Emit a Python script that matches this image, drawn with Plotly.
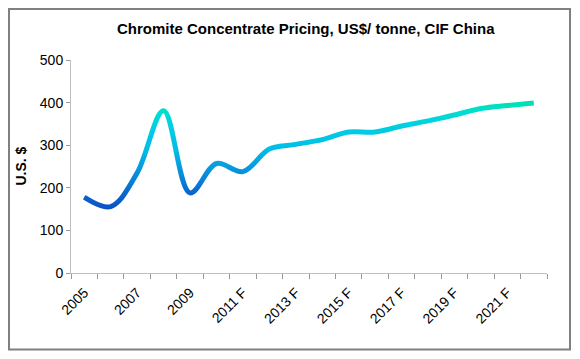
import numpy as np
import plotly.graph_objects as go

# ---- data ----
years = ["2005", "2006", "2007", "2008", "2009", "2010",
         "2011 F", "2012 F", "2013 F", "2014 F", "2015 F", "2016 F",
         "2017 F", "2018 F", "2019 F", "2020 F", "2021 F", "2022 F"]
price = [178, 156, 235, 381, 188, 257, 238, 291, 302, 313, 331, 331,
         345, 357, 371, 386, 393, 399]
y_ticks = [0, 100, 200, 300, 400, 500]

# colour ramp by value (vertical gradient of the line)
ramp_vals = [150, 190, 240, 290, 330, 370, 385, 400]
ramp_cols = ["#0a52c6", "#0a66d0", "#0892dc", "#00bce6", "#00c9e6",
             "#00d8d8", "#00e0cc", "#00e0b4"]

OFF = 8  # page body margin
W, H = 580 - 2 * OFF, 359 - 2 * OFF
L, PW = 71 - OFF, 476
T, PH = 60 - OFF, 213
R = W - L - PW
B = H - T - PH
YMAX = 500


def hex2rgb(h):
    h = h.lstrip("#")
    return [int(h[i:i + 2], 16) for i in (0, 2, 4)]


rgbs = np.array([hex2rgb(c) for c in ramp_cols], dtype=float)


def col_at(v):
    r = [np.interp(v, ramp_vals, rgbs[:, i]) for i in range(3)]
    return "rgb(%d,%d,%d)" % tuple(int(round(c)) for c in r)


idx = list(range(len(years)))
fig = go.Figure()

# transparent carrier trace for the main axes
fig.add_trace(go.Scatter(x=idx, y=price, mode="lines", opacity=0,
                         hoverinfo="skip", showlegend=False,
                         xaxis="x", yaxis="y"))

# gradient: same line drawn in thin pixel-aligned horizontal bands
u_per_px = YMAX / PH
band_px = 3
edges_px = list(range(57, 180, band_px))
layout_axes = {}
for k in range(len(edges_px) - 1):
    p0, p1 = edges_px[k] - 1, edges_px[k + 1] + 1
    a, b = p0 * u_per_px, p1 * u_per_px
    name = "y%d" % (k + 2)
    fig.add_trace(go.Scatter(
        x=idx, y=price, mode="lines",
        line=dict(shape="spline", smoothing=1,
                  color=col_at((edges_px[k] + edges_px[k + 1]) / 2 * u_per_px), width=5),
        hoverinfo="skip", showlegend=False, xaxis="x", yaxis=name))
    layout_axes["yaxis%d" % (k + 2)] = dict(
        domain=[p0 / PH, p1 / PH], range=[a, b], visible=False,
        anchor="x", fixedrange=True)

axis_col = "#bfbfbf"
font = "Liberation Sans, Arial, sans-serif"

fig.update_layout(
    width=W, height=H,
    margin=dict(l=L, r=R, t=T, b=B),
    paper_bgcolor="white", plot_bgcolor="white",
    showlegend=False,
    font=dict(family=font, size=14, color="black"),
    xaxis=dict(
        range=[-0.5, len(years) - 0.5],
        tickmode="array", tickvals=idx[::2], ticktext=years[::2],
        tickangle=-45, ticks="outside", ticklen=5, tickcolor="rgba(0,0,0,0)",
        showline=True, linecolor=axis_col, linewidth=1,
        showgrid=False, zeroline=False, anchor="y",
        minor=dict(tickmode="array",
                   tickvals=[i - 0.5 for i in range(len(years) + 1)],
                   ticks="outside", ticklen=5, tickcolor="#999999",
                   showgrid=False),
        tickfont=dict(size=14),
    ),
    yaxis=dict(
        range=[0, YMAX], domain=[0, 1], tickmode="array", tickvals=y_ticks,
        ticks="outside", ticklen=4, tickcolor="#999999",
        showline=True, linecolor=axis_col, linewidth=1,
        showgrid=False, zeroline=False, anchor="x",
        tickfont=dict(size=14),
    ),
    **layout_axes,
)


def px_x(p):
    return (p - OFF - L) / PW


def px_y(p):
    return (H - B - (p - OFF)) / PH


fig.add_annotation(text="<b>Chromite Concentrate Pricing, US$/ tonne, CIF China</b>",
                   xref="paper", yref="paper", x=px_x(306), y=px_y(28),
                   xanchor="center", yanchor="middle", showarrow=False,
                   font=dict(size=15, family=font, color="black"))
fig.add_annotation(text="<b>U.S. $</b>", textangle=-90,
                   xref="paper", yref="paper", x=px_x(20), y=0.5,
                   xanchor="center", yanchor="middle", showarrow=False,
                   font=dict(size=14, family=font, color="black"))

fig.add_shape(type="rect", xref="paper", yref="paper",
              x0=px_x(9), x1=px_x(570), y0=px_y(349.5), y1=px_y(9),
              line=dict(color="#808080", width=2), layer="below")

fig.write_html("out.html")
